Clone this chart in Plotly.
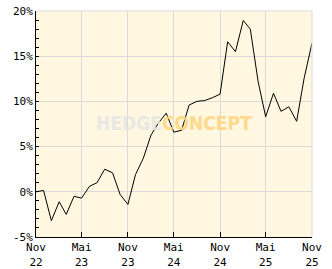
import plotly.graph_objects as go

months = ["2022-11-01","2022-12-01","2023-01-01","2023-02-01","2023-03-01","2023-04-01",
          "2023-05-01","2023-06-01","2023-07-01","2023-08-01","2023-09-01","2023-10-01",
          "2023-11-01","2023-12-01","2024-01-01","2024-02-01","2024-03-01","2024-04-01",
          "2024-05-01","2024-06-01","2024-07-01","2024-08-01","2024-09-01","2024-10-01",
          "2024-11-01","2024-12-01","2025-01-01","2025-02-01","2025-03-01","2025-04-01",
          "2025-05-01","2025-06-01","2025-07-01","2025-08-01","2025-09-01","2025-10-01",
          "2025-11-01"]
values = [0.0, 0.15, -3.2, -1.1, -2.5, -0.5,
          -0.7, 0.6, 1.0, 2.5, 2.1, -0.3,
          -1.4, 1.9, 3.7, 6.3, 7.6, 8.7,
          6.6, 6.8, 9.6, 10.0, 10.1, 10.4,
          10.8, 16.6, 15.5, 18.95, 18.0, 12.2,
          8.3, 10.9, 8.9, 9.4, 7.8, 12.6,
          16.45]
tick_dates = ["2022-11-01","2023-05-01","2023-11-01","2024-05-01","2024-11-01","2025-05-01","2025-11-01"]
tick_text = ["Nov<br>22","Mai<br>23","Nov<br>23","Mai<br>24","Nov<br>24","Mai<br>25","Nov<br>25"]
y_ticks = [-5, 0, 5, 10, 15, 20]
y_text = ["-5%", "0%", "5%", "10%", "15%", "20%"]

fig = go.Figure()
fig.add_trace(go.Scatter(x=months, y=values, mode="lines",
                         line=dict(color="black", width=1), hoverinfo="skip"))

font = dict(family="DejaVu Sans Mono", size=11, color="black")
fig.update_layout(
    width=332, height=269,
    margin=dict(l=36, r=20, t=11, b=32, autoexpand=False),
    paper_bgcolor="white", plot_bgcolor="#FFF7DF",
    showlegend=False, font=font,
    xaxis=dict(range=["2022-11-01", "2025-11-01"], tickvals=tick_dates, ticktext=tick_text,
               showgrid=True, gridcolor="#DADADA", gridwidth=1, automargin=False,
               showline=True, linecolor="black", linewidth=1, mirror=False,
               ticks="inside", ticklen=5, tickcolor="black", tickfont=font, zeroline=False),
    yaxis=dict(range=[-5, 20], tickvals=y_ticks, ticktext=y_text, automargin=False,
               showgrid=True, gridcolor="#DADADA", gridwidth=1,
               showline=True, linecolor="black", linewidth=1,
               ticks="inside", ticklen=3, tickcolor="black", tickfont=font, zeroline=False,
               minor=dict(dtick=1, ticks="inside", ticklen=3, tickcolor="black", showgrid=False)),
    shapes=[
        dict(type="line", xref="paper", yref="paper", x0=0, x1=1, y0=1, y1=1,
             line=dict(color="#DADADA", width=1)),
        dict(type="line", xref="paper", yref="paper", x0=1, x1=1, y0=0, y1=1,
             line=dict(color="#DADADA", width=1)),
    ],
    annotations=[
        dict(xref="paper", yref="paper", x=0.5, y=0.504, showarrow=False,
             text="<b><span style='color:#E6E6E6'>HEDGE</span><span style='color:#FFD580'>CONCEPT</span></b>",
             font=dict(family="DejaVu Sans Condensed", size=19), opacity=0.85),
    ],
)
fig.write_html("out.html")
